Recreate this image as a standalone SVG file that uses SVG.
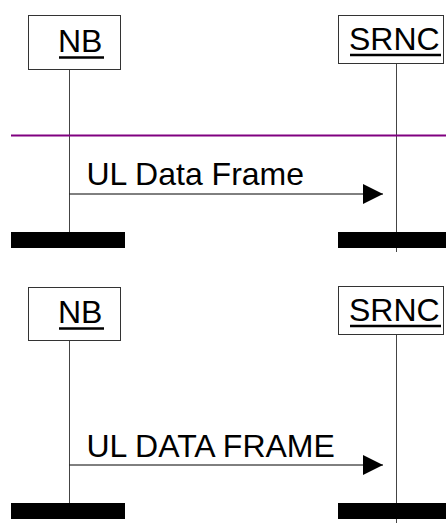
<svg xmlns="http://www.w3.org/2000/svg" width="446" height="529" viewBox="0 0 446 529">
<style>
.box{fill:#fff;stroke:#333;stroke-width:1}
.life{stroke:#444;stroke-width:1;fill:none}
.bar{fill:#000}
.lbl{font-family:"Liberation Sans",Arial,sans-serif;font-size:32px;fill:#000}
.ul{stroke:#000;stroke-width:2.5}
.msg{stroke:#000;stroke-width:1}
</style>
<defs>
<marker id="ah" markerWidth="20" markerHeight="20" refX="20" refY="10" orient="auto" markerUnits="userSpaceOnUse">
<path d="M0,0 L20,10 L0,20 Z" fill="#000"/>
</marker>
</defs>
<g id="lifelines">
<line class="life" x1="69.5" y1="69" x2="69.5" y2="232"/>
<line class="life" x1="396.5" y1="63" x2="396.5" y2="252"/>
<line class="life" x1="69.5" y1="340" x2="69.5" y2="503"/>
<line class="life" x1="396.5" y1="334" x2="396.5" y2="523"/>
</g>
<line id="divider" x1="11" y1="135.5" x2="446" y2="135.5" stroke="#800080" stroke-width="2"/>
<g id="node-nb-1">
<rect class="box" x="28.5" y="15.5" width="92" height="54"/>
<text class="lbl" x="58" y="51.5">NB</text>
<line class="ul" x1="59" y1="57.5" x2="104" y2="57.5"/>
</g>
<g id="node-srnc-1">
<rect class="box" x="338.5" y="15.5" width="105" height="48"/>
<text class="lbl" x="349" y="50">SRNC</text>
<line class="ul" x1="350" y1="55" x2="441" y2="55"/>
</g>
<g id="bars-1">
<rect class="bar" x="11" y="232" width="114" height="16"/>
<rect class="bar" x="338" y="232" width="108" height="16"/>
</g>
<g id="node-nb-2">
<rect class="box" x="28.5" y="287.5" width="92" height="53"/>
<text class="lbl" x="58" y="323">NB</text>
<line class="ul" x1="59" y1="328.5" x2="104" y2="328.5"/>
</g>
<g id="node-srnc-2">
<rect class="box" x="338.5" y="286.5" width="105" height="48"/>
<text class="lbl" x="349" y="321">SRNC</text>
<line class="ul" x1="350" y1="326" x2="441" y2="326"/>
</g>
<g id="bars-2">
<rect class="bar" x="11" y="503" width="114" height="16"/>
<rect class="bar" x="338" y="503" width="108" height="16"/>
</g>
<g id="connectors">
<line class="msg" x1="69.5" y1="194" x2="383" y2="194" marker-end="url(#ah)"/>
<text class="lbl" x="86.5" y="185">UL Data Frame</text>
<line class="msg" x1="69.5" y1="465" x2="383" y2="465" marker-end="url(#ah)"/>
<text class="lbl" x="86.5" y="456.5">UL DATA FRAME</text>
</g>
</svg>
